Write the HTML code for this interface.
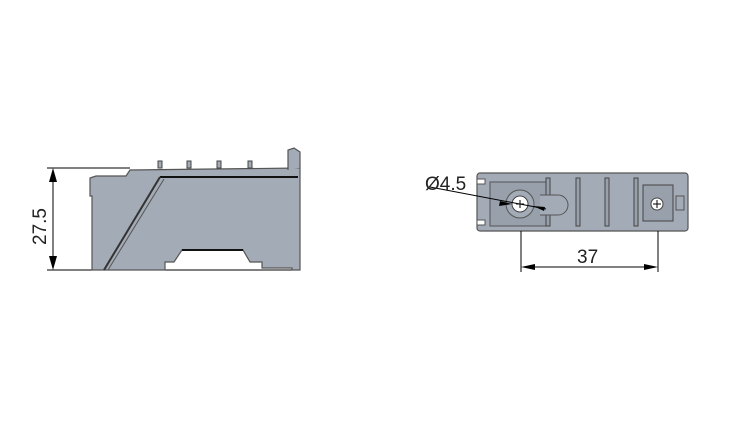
<!DOCTYPE html>
<html><head><style>body{margin:0;background:#fff}svg{display:block}</style></head><body>
<svg width="742" height="439" viewBox="0 0 742 439" xmlns="http://www.w3.org/2000/svg" font-family="Liberation Sans, sans-serif">
<!-- side view -->
<g stroke="#000" stroke-width="1" fill="none">
<line x1="47" y1="168" x2="130" y2="168"/>
<line x1="47" y1="270" x2="300" y2="270"/>
<line x1="53" y1="172" x2="53" y2="266"/>
</g>
<polygon points="53,168 49,182 57,182" fill="#000"/>
<polygon points="53,270 49,256 57,256" fill="#000"/>
<text x="0" y="0" font-size="19" fill="#222" transform="translate(46,245) rotate(-90)">27.5</text>
<path d="M90,178 L96,176 L126,176 L130,170 L300,168 L300,270 L292,270 L292,268 L262,268 L262,262 L250,262 L243,250 L182,250 L174,262 L165,262 L165,270 L92,270 L92,196 L90,196 Z" fill="#a3abb6" stroke="#555" stroke-width="1.2"/>
<path d="M288,170 L288,150 L294,148 L300,152 L300,168" fill="#a3abb6" stroke="#555" stroke-width="1.2"/>
<g fill="#a3abb6" stroke="#444">
<rect x="158" y="161" width="4" height="7"/><rect x="187" y="161" width="4" height="7"/><rect x="217" y="161" width="4" height="7"/><rect x="248" y="161" width="4" height="7"/>
</g>
<line x1="160" y1="177" x2="298" y2="177" stroke="#111" stroke-width="2"/>
<line x1="160" y1="177" x2="104" y2="270" stroke="#333" stroke-width="2"/>
<line x1="164" y1="179" x2="108" y2="270" stroke="#555" stroke-width="1"/>
<line x1="182" y1="250" x2="243" y2="250" stroke="#111" stroke-width="2"/>
<!-- top view -->
<rect x="477" y="173" width="211" height="58" rx="3" fill="#a3abb6" stroke="#555" stroke-width="1.2"/>
<rect x="477" y="179" width="8" height="5" fill="#fff" stroke="#555"/>
<rect x="477" y="220" width="8" height="5" fill="#fff" stroke="#555"/>
<rect x="490" y="182" width="58" height="44" fill="#98a0ab" stroke="#555"/>
<g fill="#98a0ab" stroke="#444">
<rect x="546" y="178" width="4" height="48"/><rect x="576" y="178" width="4" height="48"/><rect x="605" y="178" width="4" height="48"/><rect x="634" y="178" width="4" height="48"/>
</g>
<path d="M540,195 L558,195 A10 10 0 0 1 558,215 L540,215" fill="#a3abb6" stroke="#555"/>
<circle cx="520" cy="204" r="14" fill="#a3abb6" stroke="#555"/>
<circle cx="520" cy="204" r="8" fill="#fff" stroke="#444"/>
<rect x="643" y="185" width="30" height="36" fill="#98a0ab" stroke="#444"/>
<circle cx="657" cy="204" r="6" fill="#fff" stroke="#444"/>
<rect x="676" y="196" width="8" height="14" fill="#a3abb6" stroke="#555"/>
<g stroke="#000" stroke-width="1">
<line x1="516" y1="204" x2="524" y2="204"/><line x1="520" y1="200" x2="520" y2="208"/>
<line x1="653" y1="204" x2="661" y2="204"/><line x1="657" y1="200" x2="657" y2="208"/>
<line x1="430" y1="187" x2="546" y2="209"/>
<line x1="521" y1="231" x2="521" y2="272"/>
<line x1="658" y1="231" x2="658" y2="272"/>
<line x1="525" y1="267" x2="654" y2="267"/>
</g>
<polygon points="500,201 512,204 499,206" fill="#000"/>
<polygon points="545,207 533,206 544,211" fill="#000"/>
<polygon points="521,267 535,264 535,270" fill="#000"/>
<polygon points="658,267 644,264 644,270" fill="#000"/>
<text x="425" y="190" font-size="19" fill="#222">Ø4.5</text>
<text x="577" y="263" font-size="19" fill="#222">37</text>
</svg>
</body></html>
